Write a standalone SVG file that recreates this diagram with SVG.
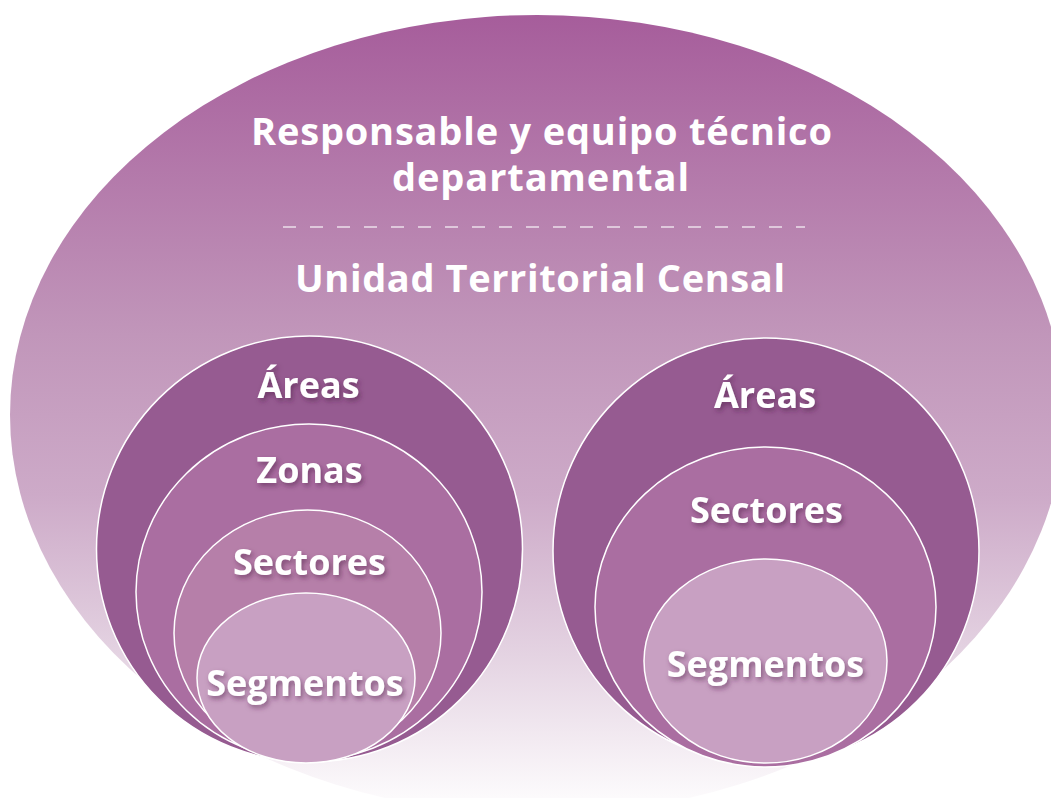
<svg xmlns="http://www.w3.org/2000/svg" width="1051" height="798" viewBox="0 0 1051 798">
  <defs>
    <linearGradient id="bgGrad" gradientUnits="userSpaceOnUse" x1="0" y1="15" x2="0" y2="815">
      <stop offset="0" stop-color="#a65d9b"/>
      <stop offset="0.4" stop-color="#c196ba"/>
      <stop offset="0.6" stop-color="#cdaac8"/>
      <stop offset="0.8" stop-color="#e4d3e2"/>
      <stop offset="1" stop-color="#ffffff"/>
    </linearGradient>
    <filter id="shadow" x="-20%" y="-40%" width="140%" height="180%">
      <feDropShadow dx="2" dy="3" stdDeviation="2.5" flood-color="#4f1f4a" flood-opacity="0.55"/>
    </filter>
  </defs>
  <style>
    .title { font-family: "Open Sans", "Noto Sans", "Liberation Sans", sans-serif; font-weight: 700; font-size: 38px; fill: #ffffff; text-anchor: middle; }
    .label { font-family: "Open Sans", "Noto Sans", "Liberation Sans", sans-serif; font-weight: 700; font-size: 36px; fill: #ffffff; text-anchor: middle; filter: url(#shadow); }
    .ring { stroke: #ffffff; stroke-width: 1.5; }
    .c1 { fill: #965b91; }
    .c2 { fill: #aa6ea1; }
    .c3 { fill: #b67fa9; }
    .c4 { fill: #c8a0c2; }
  </style>

  <g id="background">
    <ellipse cx="537" cy="415" rx="527" ry="400" fill="url(#bgGrad)"/>
  </g>

  <g id="header">
    <text class="title" x="541.5" y="145" textLength="581" lengthAdjust="spacing">Responsable y equipo técnico</text>
    <text class="title" x="540.5" y="191" textLength="297" lengthAdjust="spacing">departamental</text>
    <line x1="283" y1="227" x2="805" y2="227" stroke="#ecdfea" stroke-width="1.5" stroke-dasharray="13 14"/>
    <text class="title" x="540" y="292" textLength="490" lengthAdjust="spacing">Unidad Territorial Censal</text>
  </g>

  <g id="left-group">
    <g id="left-areas">
      <circle class="ring c1" cx="309.5" cy="549" r="213"/>
    </g>
    <g id="left-zonas">
      <ellipse class="ring c2" cx="309" cy="592" rx="173" ry="168"/>
    </g>
    <g id="left-sectores">
      <ellipse class="ring c3" cx="307.5" cy="633" rx="133.5" ry="123"/>
    </g>
    <g id="left-segmentos">
      <ellipse class="ring c4" cx="306" cy="678" rx="109" ry="85"/>
    </g>
    <text class="label" x="308.5" y="398">Áreas</text>
    <text class="label" x="309.5" y="483">Zonas</text>
    <text class="label" x="309.5" y="575">Sectores</text>
    <text class="label" x="305" y="696">Segmentos</text>
  </g>

  <g id="right-group">
    <g id="right-areas">
      <circle class="ring c1" cx="766" cy="551" r="213"/>
    </g>
    <g id="right-sectores">
      <ellipse class="ring c2" cx="765.5" cy="607" rx="170.5" ry="160"/>
    </g>
    <g id="right-segmentos">
      <ellipse class="ring c4" cx="765.5" cy="661" rx="121.5" ry="102"/>
    </g>
    <text class="label" x="765" y="408">Áreas</text>
    <text class="label" x="766.5" y="523">Sectores</text>
    <text class="label" x="765.5" y="677">Segmentos</text>
  </g>
</svg>
